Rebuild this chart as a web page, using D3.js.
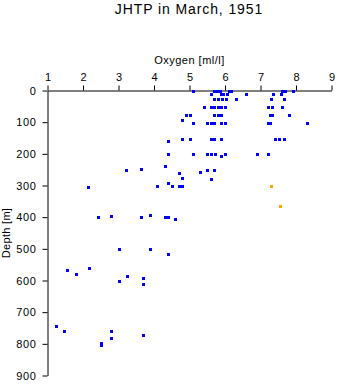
<!DOCTYPE html>
<html>
<head>
<meta charset="utf-8">
<script src="https://cdn.jsdelivr.net/npm/d3@7"></script>
<style>
  html, body { margin: 0; padding: 0; background: #fff; }
  svg { display: block; }
  text { font-family: "Liberation Sans", Arial, Helvetica, sans-serif; fill: #000; }
</style>
</head>
<body>
<svg id="chart" width="338" height="384"></svg>
<script>
const title = "JHTP in March, 1951";
const xLabel = "Oxygen [ml/l]";
const yLabel = "Depth [m]";
const xTicks = [1, 2, 3, 4, 5, 6, 7, 8, 9];
const yTicks = [0, 100, 200, 300, 400, 500, 600, 700, 800, 900];

// Main observations (blue)
const blueOxygen = [
  5.1, 5.7, 5.78, 5.85, 6.12, 6.18, 7.61, 7.68, 7.92,
  5.6, 5.88, 5.95, 6.05, 6.6, 7.36, 7.59,
  5.7, 5.81, 5.91, 6.02, 6.31, 7.29, 7.67,
  5.41, 5.6, 5.7, 5.81, 5.9, 5.99, 7.22, 7.31, 7.61,
  4.9, 5.01, 5.7, 5.81, 5.9, 7.26, 7.31, 7.81,
  4.8,
  5.1, 5.5, 5.6, 5.7, 5.9, 6.0, 7.22, 7.26, 8.31,
  4.8, 5.0, 5.6, 5.7, 5.9, 7.42, 7.51, 7.67,
  4.4,
  4.4, 5.1, 5.5, 5.6, 5.72, 6.01, 6.91, 7.22,
  5.9,
  4.32, 3.62, 3.2, 5.5, 5.7, 5.3, 4.71, 4.8, 5.6, 4.4,
  4.09, 4.52, 4.71, 4.8,
  2.15,
  3.9, 2.8, 2.41, 3.62, 4.3, 4.4, 4.6,
  3.0, 3.9, 4.4,
  2.18, 1.56, 1.8, 3.25, 3.7, 3.0, 3.7,
  1.23, 2.8, 1.47, 3.7, 2.8, 2.5, 2.5
];
const blueDepth = [
  0, 0, 0, 0, 0, 0, 0, 0, 0,
  12, 12, 12, 12, 12, 12, 12,
  26, 26, 26, 26, 26, 26, 26,
  51, 51, 51, 51, 51, 51, 51, 51, 51,
  77, 77, 77, 77, 77, 77, 77, 77,
  92,
  102, 102, 102, 102, 102, 102, 102, 102, 102,
  153, 153, 153, 153, 153, 153, 153, 153,
  159,
  201, 201, 201, 201, 201, 201, 201, 201,
  206,
  238, 248, 251, 251, 251, 256, 261, 277, 279, 292,
  301, 301, 301, 301,
  306,
  393, 396, 401, 401, 401, 401, 405,
  502, 502, 515,
  561, 566, 579, 587, 591, 601, 610,
  743, 759, 761, 771, 781, 797, 804
];

// Flagged observations (orange)
const orangeOxygen = [7.3, 7.55];
const orangeDepth = [301, 366];

const svg = d3.select("#chart");

const x = d3.scaleLinear().domain([1, 9]).range([47.5, 331.5]);
const y = d3.scaleLinear().domain([0, 900]).range([90.5, 375.5]);

// Title
svg.append("text")
  .attr("x", 189).attr("y", 13.5)
  .attr("text-anchor", "middle")
  .style("font-size", "14px")
  .style("letter-spacing", "0.9px")
  .text(title);

// Top axis
const xAxis = svg.append("g")
  .attr("transform", "translate(0,90.5)")
  .call(d3.axisTop(x).tickValues(xTicks).tickSize(5).tickSizeOuter(0).tickPadding(5).tickFormat(d3.format("d")));
xAxis.select(".domain").attr("stroke", "#000");
xAxis.selectAll(".tick line").attr("stroke", "#000");
xAxis.selectAll(".tick text")
  .style("font-size", "11px")
  .style("font-family", "'Liberation Sans', Arial, sans-serif")
  .attr("fill", "#000");

svg.append("text")
  .attr("x", 189.5).attr("y", 64)
  .attr("text-anchor", "middle")
  .style("font-size", "11px")
  .style("letter-spacing", "0.5px")
  .text(xLabel);

// Left axis
const yAxis = svg.append("g")
  .attr("transform", "translate(47.5,0)")
  .call(d3.axisLeft(y).tickValues(yTicks).tickSize(5).tickSizeOuter(0).tickPadding(6).tickFormat(d3.format("d")));
yAxis.select(".domain").attr("stroke", "#000");
yAxis.selectAll(".tick line").attr("stroke", "#000");
yAxis.selectAll(".tick text")
  .style("font-size", "11px")
  .style("letter-spacing", "0.6px")
  .style("font-family", "'Liberation Sans', Arial, sans-serif")
  .attr("fill", "#000");

svg.append("text")
  .attr("transform", "translate(9.5,233) rotate(-90)")
  .attr("text-anchor", "middle")
  .style("font-size", "11px")
  .style("letter-spacing", "0.3px")
  .text(yLabel);

// Points
const blue = blueOxygen.map((o, i) => ({ o, d: blueDepth[i] }));
const orange = orangeOxygen.map((o, i) => ({ o, d: orangeDepth[i] }));

svg.append("g").selectAll("rect").data(blue).join("rect")
  .attr("x", d => Math.round(x(d.o)) - 1.5)
  .attr("y", d => Math.round(y(d.d)) - 1.5)
  .attr("width", 3).attr("height", 3)
  .attr("fill", "#0000ff")
  .attr("shape-rendering", "crispEdges");

svg.append("g").selectAll("rect").data(orange).join("rect")
  .attr("x", d => Math.round(x(d.o)) - 1.5)
  .attr("y", d => Math.round(y(d.d)) - 1.5)
  .attr("width", 3).attr("height", 3)
  .attr("fill", "#ffa500")
  .attr("shape-rendering", "crispEdges");
</script>
</body>
</html>
